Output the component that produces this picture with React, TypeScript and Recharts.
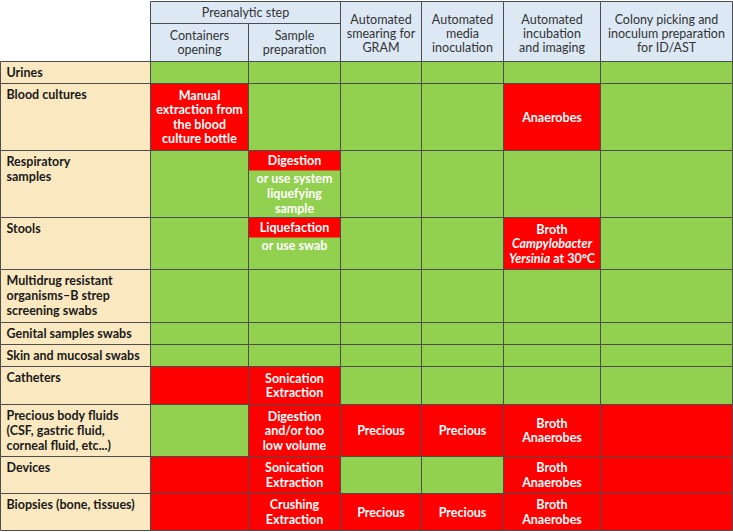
import React from 'react';
import { ComposedChart, XAxis, YAxis, ReferenceArea } from 'recharts';

const W = 733;
const H = 532;

const groupLabel = 'Preanalytic step';
const columnLabels = [
  ['Containers', 'opening'],
  ['Sample', 'preparation'],
  ['Automated', 'smearing for', 'GRAM'],
  ['Automated', 'media', 'inoculation'],
  ['Automated', 'incubation', 'and imaging'],
  ['Colony picking and', 'inoculum preparation', 'for ID/AST'],
];
const rowLabels = [
  ['Urines'],
  ['Blood cultures'],
  ['Respiratory', 'samples'],
  ['Stools'],
  ['Multidrug resistant', 'organisms–B strep', 'screening swabs'],
  ['Genital samples swabs'],
  ['Skin and mucosal swabs'],
  ['Catheters'],
  ['Precious body fluids', '(CSF, gastric fluid,', 'corneal fluid, etc...)'],
  ['Devices'],
  ['Biopsies (bone, tissues)'],
];
// o = fully automated, x = manual step needed, s = manual step then automated
const cellStatus = [
  ['o', 'o', 'o', 'o', 'o', 'o'],
  ['x', 'o', 'o', 'o', 'x', 'o'],
  ['o', 's', 'o', 'o', 'o', 'o'],
  ['o', 's', 'o', 'o', 'x', 'o'],
  ['o', 'o', 'o', 'o', 'o', 'o'],
  ['o', 'o', 'o', 'o', 'o', 'o'],
  ['o', 'o', 'o', 'o', 'o', 'o'],
  ['x', 'x', 'o', 'o', 'o', 'o'],
  ['o', 'x', 'x', 'x', 'x', 'x'],
  ['x', 'x', 'o', 'o', 'x', 'x'],
  ['x', 'x', 'x', 'x', 'x', 'x'],
];
const cellNotes = [
  { row: 1, col: 0, lines: ['Manual', 'extraction from', 'the blood', 'culture bottle'] },
  { row: 1, col: 4, lines: ['Anaerobes'] },
  { row: 2, col: 1, band: 'Digestion', lines: ['or use system', 'liquefying', 'sample'] },
  { row: 3, col: 1, band: 'Liquefaction', lines: ['or use swab'] },
  { row: 3, col: 4, lines: ['Broth', '*Campylobacter*', '*Yersinia* at 30°C'] },
  { row: 7, col: 1, lines: ['Sonication', 'Extraction'] },
  { row: 8, col: 1, lines: ['Digestion', 'and/or too', 'low volume'] },
  { row: 8, col: 2, lines: ['Precious'] },
  { row: 8, col: 3, lines: ['Precious'] },
  { row: 8, col: 4, lines: ['Broth', 'Anaerobes'] },
  { row: 9, col: 1, lines: ['Sonication', 'Extraction'] },
  { row: 9, col: 4, lines: ['Broth', 'Anaerobes'] },
  { row: 10, col: 1, lines: ['Crushing', 'Extraction'] },
  { row: 10, col: 2, lines: ['Precious'] },
  { row: 10, col: 3, lines: ['Precious'] },
  { row: 10, col: 4, lines: ['Broth', 'Anaerobes'] },
];

// layout (pixel grid of the table)
const colEdges = [0.5, 150.5, 248.5, 340.5, 421.5, 503.5, 600.5, 732.5];
const headTop = 1.5;
const headMid = 23.5;
const headBottom = 61.5;
const rowEdges = [61.5, 83.5, 150.5, 217.5, 269.5, 322.5, 344.5, 366.5, 404.5, 456.5, 493.5, 530.5];
const bandHeight = 20;

const GREEN = '#92d050';
const RED = '#ff0000';
const BEIGE = '#f9e8c0';
const BLUE = '#dce9f5';
const LINE = '#4d4d4d';
const FONT = 'Lato, "Open Sans", sans-serif';

const segments = (line: string) =>
  line.split('*').map((t, i) => (
    <tspan key={i} fontStyle={i % 2 === 1 ? 'italic' : 'normal'}>
      {t}
    </tspan>
  ));

type BlockOpts = {
  align: 'center' | 'left';
  valign: 'center' | 'top';
  fill: string;
  weight: number;
  size: number;
  lh: number;
  padX?: number;
  padY?: number;
  offY?: number;
};

const textBlock = (lines: string[], o: BlockOpts) => (props: any) => {
  const vb = props.viewBox || props;
  const { x, y, width, height } = vb;
  const n = lines.length;
  const tx = o.align === 'center' ? x + width / 2 : x + (o.padX ?? 6);
  const first =
    o.valign === 'center'
      ? y + height / 2 - ((n - 1) * o.lh) / 2 + o.size * 0.36 + (o.offY ?? 0)
      : y + (o.padY ?? 15);
  return (
    <text
      fontFamily={FONT}
      fontSize={o.size}
      fontWeight={o.weight}
      fill={o.fill}
      textAnchor={o.align === 'center' ? 'middle' : 'start'}
    >
      {lines.map((l, i) => (
        <tspan key={i} x={tx} y={first + i * o.lh}>
          {segments(l)}
        </tspan>
      ))}
    </text>
  );
};

const headText = (lines: string[]) =>
  textBlock(lines, {
    align: 'center',
    valign: 'center',
    fill: '#333',
    weight: 400,
    size: 12.5,
    lh: 14,
    offY: lines.length > 2 ? 1.5 : 0,
  });
const cellText = (lines: string[]) =>
  textBlock(lines, { align: 'center', valign: 'center', fill: '#fff', weight: 700, size: 12.5, lh: 14.5 });

const area = (key: string, x1: number, x2: number, y1: number, y2: number, fill: string, label?: any, stroke = LINE) => (
  <ReferenceArea
    key={key}
    x1={x1}
    x2={x2}
    y1={y1}
    y2={y2}
    fill={fill}
    fillOpacity={1}
    stroke={stroke}
    strokeWidth={1}
    radius={0}
    ifOverflow="visible"
    label={label}
  />
);

const App = () => {
  const items: React.ReactNode[] = [];

  // header
  items.push(area('grp', colEdges[1], colEdges[3], headTop, headMid, BLUE, headText([groupLabel])));
  columnLabels.forEach((lines, c) => {
    const top = c < 2 ? headMid : headTop;
    items.push(area(`h${c}`, colEdges[c + 1], colEdges[c + 2], top, headBottom, BLUE, headText(lines)));
  });

  rowLabels.forEach((lines, r) => {
    const y1 = rowEdges[r];
    const y2 = rowEdges[r + 1];
    items.push(
      area(
        `r${r}`,
        colEdges[0],
        colEdges[1],
        y1,
        y2,
        BEIGE,
        textBlock(lines, { align: 'left', valign: 'top', fill: '#1a1a1a', weight: 700, size: 12.5, lh: 15, padX: 6, padY: 15 })
      )
    );
    cellStatus[r].forEach((s, c) => {
      const note = cellNotes.find((n) => n.row === r && n.col === c);
      const x1 = colEdges[c + 1];
      const x2 = colEdges[c + 2];
      if (s === 's' && note) {
        items.push(
          area(
            `c${r}-${c}`,
            x1,
            x2,
            y1,
            y2,
            GREEN,
            textBlock(note.lines, {
              align: 'center',
              valign: 'top',
              fill: '#fff',
              weight: 700,
              size: 12.5,
              lh: 15,
              padY: bandHeight + 12,
            })
          )
        );
        items.push(area(`b${r}-${c}`, x1 + 0.5, x2 - 0.5, y1 + 0.5, y1 + bandHeight, RED, cellText([note.band as string]), 'none'));
      } else {
        items.push(area(`c${r}-${c}`, x1, x2, y1, y2, s === 'x' ? RED : GREEN, note ? cellText(note.lines) : undefined));
      }
    });
  });

  return (
    <div style={{ position: 'absolute', left: 0, top: 0, width: W, height: H, background: '#fff' }}>
      <ComposedChart width={W} height={H} margin={{ top: 0, right: 0, bottom: 0, left: 0 }}>
        <XAxis type="number" dataKey="x" domain={[0, W]} allowDataOverflow hide />
        <YAxis type="number" dataKey="y" domain={[0, H]} allowDataOverflow reversed hide />
        {items}
      </ComposedChart>
    </div>
  );
};

export default App;
